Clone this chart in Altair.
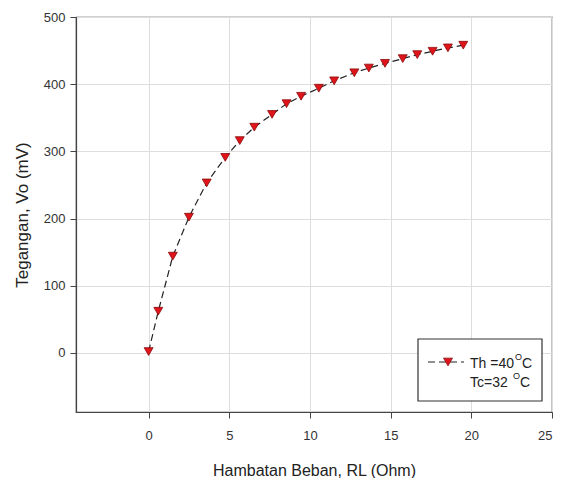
import altair as alt
import pandas as pd

# Data
rl = [0.0, 0.6, 1.5, 2.5, 3.6, 4.75, 5.65, 6.55, 7.65, 8.55, 9.45, 10.55, 11.5,
      12.75, 13.65, 14.65, 15.75, 16.65, 17.6, 18.55, 19.5]
vo = [2, 62, 144, 202, 253, 291, 316, 336, 355, 371, 382, 394, 405,
      417, 424, 431, 438, 444, 449, 454, 458]
x_ticks = [0, 5, 10, 15, 20, 25]
y_ticks = [0, 100, 200, 300, 400, 500]
legend_line1 = "Th =40"
legend_line2 = "Tc=32"
legend_sup = "O"
legend_unit = "C"

df = pd.DataFrame({"RL": rl, "Vo": vo})
one = pd.DataFrame({"k": [0]})

FONT = "Liberation Sans"

xenc = alt.X("RL:Q", scale=alt.Scale(domain=[-4.5, 25], nice=False, zero=False),
             axis=alt.Axis(values=x_ticks, title="Hambatan Beban, RL (Ohm)",
                           titlePadding=20, labelPadding=11))
yenc = alt.Y("Vo:Q", scale=alt.Scale(domain=[-88, 500], nice=False, zero=False),
             axis=alt.Axis(values=y_ticks, title="Tegangan, Vo (mV)",
                           titlePadding=12, labelPadding=5))

line = alt.Chart(df).mark_line(color="#222222", strokeWidth=1.2,
                               strokeDash=[7, 4]).encode(x=xenc, y=yenc)
pts = alt.Chart(df).mark_point(shape="triangle-down", filled=True, size=80,
                               color="#e0141b", stroke="#8a0a0a",
                               strokeWidth=0.8, opacity=1).encode(x="RL:Q", y="Vo:Q")

# Legend box (manual)
box = alt.Chart(one).mark_rect(fill="white", stroke="#333333", strokeWidth=1.2).encode(
    x=alt.value(342), x2=alt.value(466), y=alt.value(322), y2=alt.value(384))
leg_line = alt.Chart(one).mark_rule(color="#222222", strokeWidth=1.2,
                                    strokeDash=[7, 4]).encode(
    x=alt.value(352), x2=alt.value(388), y=alt.value(345))
leg_pt = alt.Chart(one).mark_point(shape="triangle-down", filled=True, size=80,
                                   color="#e0141b", stroke="#8a0a0a",
                                   strokeWidth=0.8, opacity=1).encode(
    x=alt.value(372), y=alt.value(345))


def txt(s, x, y, size):
    return alt.Chart(one).mark_text(text=s, align="left", baseline="alphabetic",
                                    font=FONT, fontSize=size, color="#222222").encode(
        x=alt.value(x), y=alt.value(y))


texts = [
    txt(legend_line1, 394, 351, 14),
    txt(legend_sup, 439, 343, 9),
    txt(legend_unit, 446, 351, 14),
    txt(legend_line2, 394, 370, 14),
    txt(legend_sup, 437, 362, 9),
    txt(legend_unit, 444, 370, 14),
]

chart = alt.layer(line, pts, box, leg_line, leg_pt, *texts).properties(
    width=476, height=395,
    autosize=alt.AutoSizeParams(type="none"),
    padding={"left": 68, "top": 9, "right": 2, "bottom": 66},
    background="white",
).configure_view(stroke="#444444", strokeWidth=1.2).configure_axis(
    labelFont=FONT, titleFont=FONT, labelFontSize=13, titleFontSize=16,
    titleFontWeight="normal", labelColor="#333333", titleColor="#222222",
    domainColor="#444444", domainWidth=1.2, tickColor="#444444", tickSize=6,
    gridColor="#dddddd", gridWidth=1,
).configure_axisY(titleFontSize=17)

chart.save("out.html", embed_options={"renderer": "svg", "actions": False})
